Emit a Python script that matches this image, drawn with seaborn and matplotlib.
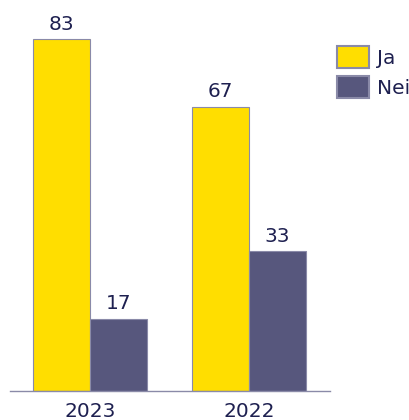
import matplotlib
matplotlib.use("Agg")
import matplotlib.pyplot as plt
import seaborn as sns
import pandas as pd

years = ["2023", "2022"]
series = ["Ja", "Nei"]
ja_values = [83, 67]
nei_values = [17, 33]

colors = {"Ja": "#FFDE00", "Nei": "#57577D"}
text_color = "#1E2050"

df = pd.DataFrame({
    "year": years * 2,
    "answer": ["Ja"] * len(years) + ["Nei"] * len(years),
    "value": ja_values + nei_values,
})

sns.set_theme(style="white")
plt.rcParams["font.family"] = ["DejaVu Sans"]

fig = plt.figure(figsize=(4.1, 4.2), dpi=100)
ax = fig.add_axes([0.0244, 0.069, 0.78, 0.9086])

sns.barplot(data=df, x="year", y="value", hue="answer", order=years,
            hue_order=series, palette=colors, saturation=1, width=0.717,
            edgecolor="#8A8AA8", linewidth=0.8, ax=ax, legend=True)

for c in ax.containers:
    ax.bar_label(c, fmt="%d", padding=4, fontsize=14.5, color=text_color)

ax.set_xlim(-0.503, 1.509)
ax.set_ylim(0, 90)
ax.set_xlabel("")
ax.set_ylabel("")
ax.set_yticks([])
for s in ["top", "right", "left"]:
    ax.spines[s].set_visible(False)
ax.spines["bottom"].set_color("#8A8AA8")
ax.spines["bottom"].set_linewidth(1)
ax.tick_params(axis="x", length=0, pad=8, labelsize=14.5, labelcolor=text_color)

leg = ax.legend(loc="upper left", bbox_to_anchor=(0.822, 0.89),
                bbox_transform=fig.transFigure, frameon=False, fontsize=14.5,
                handlelength=1.6, handleheight=1.3, labelspacing=0.4,
                handletextpad=0.4, borderaxespad=0, borderpad=0)
for t in leg.get_texts():
    t.set_color(text_color)
for h in leg.legend_handles:
    h.set_edgecolor("#8A8AA8")
    h.set_linewidth(1.5)

fig.savefig("out.png", dpi=100)
